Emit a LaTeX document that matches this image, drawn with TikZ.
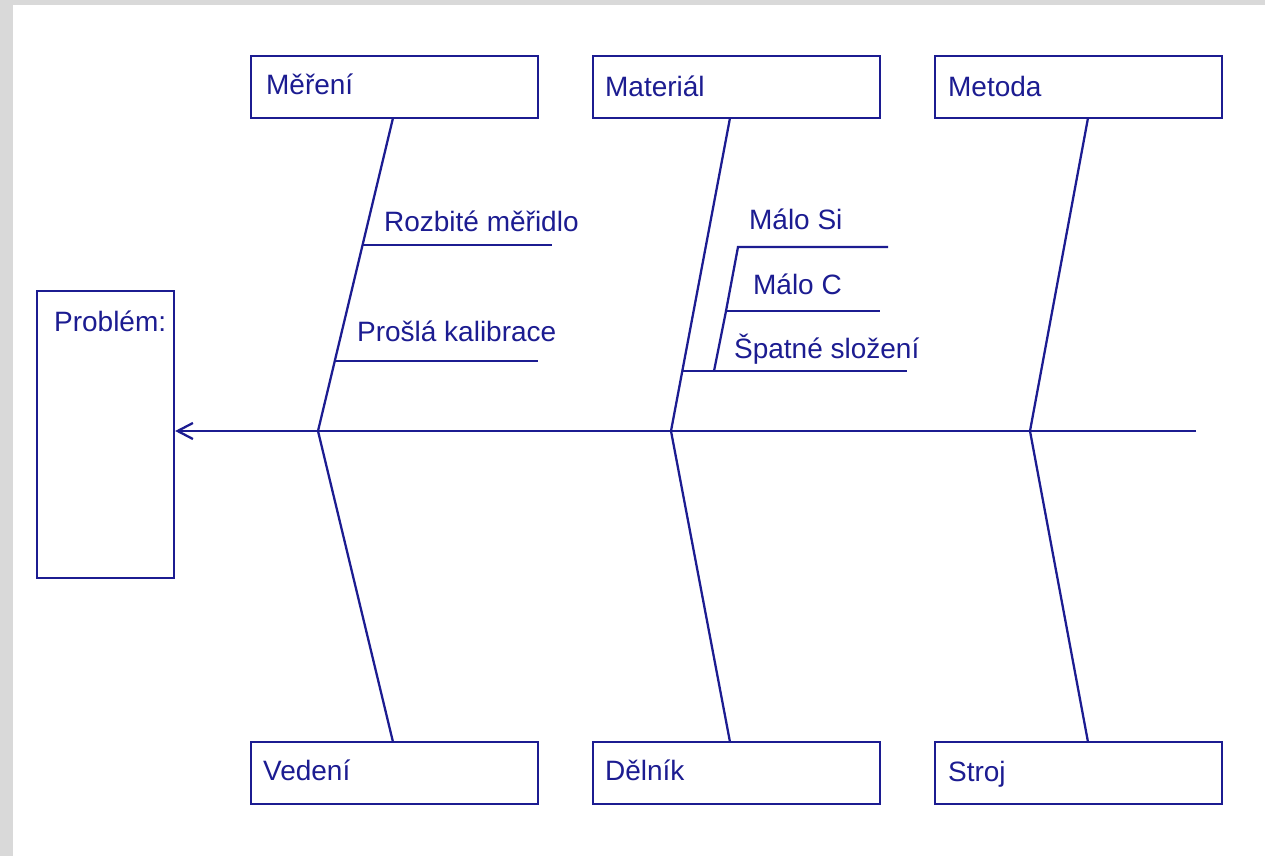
\documentclass[tikz,border=0pt]{standalone}
\usepackage{fontspec}
\setmainfont{Liberation Sans}
\usetikzlibrary{arrows.meta}
\definecolor{navy}{RGB}{28,28,145}
\definecolor{frame}{RGB}{217,217,217}
\begin{document}
\begin{tikzpicture}[x=0.75pt,y=-0.75pt,
  line width=1.7pt, draw=navy,
  box/.style={draw=navy, line width=1.7pt, inner sep=0pt},
  lbl/.style={text=navy, font=\fontsize{21}{24}\selectfont, anchor=base west, inner sep=0pt},
  bone/.style={draw=navy, line width=1.7pt}]
\useasboundingbox (0,0) rectangle (1265,856);
\fill[frame] (0,0) rectangle (1265,856);
\fill[white] (13,5) rectangle (1265,856);
% boxes
\node[box, minimum width=287*0.75pt, minimum height=62*0.75pt] (mer) at (394.5,87) {};
\node[box, minimum width=287*0.75pt, minimum height=62*0.75pt] (mat) at (736.5,87) {};
\node[box, minimum width=287*0.75pt, minimum height=62*0.75pt] (met) at (1078.5,87) {};
\node[box, minimum width=287*0.75pt, minimum height=62*0.75pt] (ved) at (394.5,773) {};
\node[box, minimum width=287*0.75pt, minimum height=62*0.75pt] (del) at (736.5,773) {};
\node[box, minimum width=287*0.75pt, minimum height=62*0.75pt] (str) at (1078.5,773) {};
\node[box, minimum width=137*0.75pt, minimum height=287*0.75pt] (prob) at (105.5,434.5) {};
% box labels
\node[lbl] (tmer) at (265,95) {Měření};
\node[lbl] (tmat) at (604,97) {Materiál};
\node[lbl] (tmet) at (947,97) {Metoda};
\node[lbl] (tved) at (262,780) {Vedení};
\node[lbl] (tdel) at (604,780) {Dělník};
\node[lbl] (tstr) at (947,781) {Stroj};
\node[lbl] (tprob) at (53,331) {Problém:};
% spine
\coordinate (tail) at (1196,431);
\coordinate (j1) at (318,431);
\coordinate (j2) at (671,431);
\coordinate (j3) at (1030,431);
\draw[bone, -{Straight Barb[length=11.5pt,width=12pt]}] (tail) -- (tail -| prob.east);
% main bones
\coordinate (merb) at (393,118);
\coordinate (matb) at (730,118);
\coordinate (metb) at (1088,118);
\coordinate (vedb) at (393,742);
\coordinate (delb) at (730,742);
\coordinate (strb) at (1088,742);
\draw[bone] (merb) -- (j1) -- (vedb);
\draw[bone] (matb) -- (j2) -- (delb);
\draw[bone] (metb) -- (j3) -- (strb);
% Měření sub-bones
\coordinate (r1) at (362.6,245);
\coordinate (r1e) at (552,245);
\coordinate (p1) at (334.8,361);
\coordinate (p1e) at (538,361);
\draw[bone] (r1) -- (r1e);
\draw[bone] (p1) -- (p1e);
\node[lbl] (trozb) at (383,231) {Rozbité měřidlo};
\node[lbl] (tpros) at (356,341) {Prošlá kalibrace};
% Materiál sub-bones
\coordinate (s1) at (682.3,371);
\coordinate (s1m) at (714,371);
\coordinate (s1e) at (907,371);
\coordinate (c1) at (726,311);
\coordinate (c1e) at (880,311);
\coordinate (si1) at (738,247);
\coordinate (si1e) at (888,247);
\draw[bone] (s1) -- (s1e);
\draw[bone] (s1m) -- (c1) -- (si1) -- (si1e);
\draw[bone] (c1) -- (c1e);
\node[lbl] (tsi) at (748,229) {Málo Si};
\node[lbl] (tc) at (752,294) {Málo C};
\node[lbl] (tspat) at (733,358) {Špatné složení};
\end{tikzpicture}
\end{document}
